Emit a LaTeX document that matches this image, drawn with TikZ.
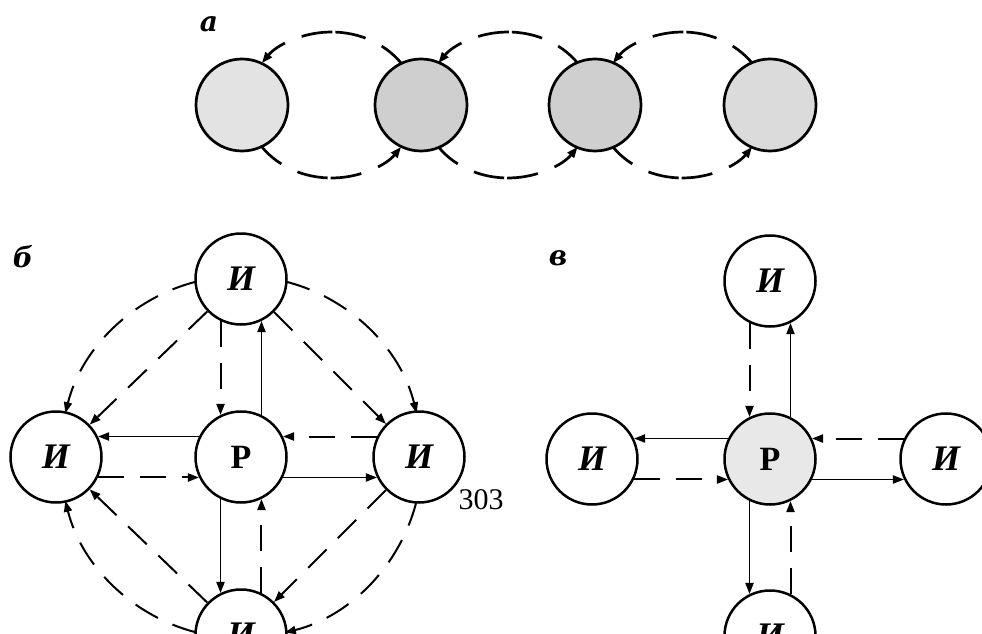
\documentclass[tikz,border=0pt]{standalone}
\usepackage{fontspec}
\setmainfont{Liberation Serif}
\newfontfamily\labfont{DejaVu Serif}
\usetikzlibrary{arrows.meta,backgrounds}
\pgfdeclarelayer{paper}
\pgfsetlayers{paper,background,main}
\begin{document}
\begin{tikzpicture}[x=1pt,y=-1pt,
  nd/.style={circle,draw=black,line width=2.5pt,minimum size=91pt,inner sep=0pt,fill=white,
    font=\bfseries\itshape\fontsize{36}{36}\selectfont},
  ndr/.style={nd,font=\bfseries\fontsize{34}{34}\selectfont},
  anode/.style={circle,draw=black,line width=2.7pt,minimum size=92pt,inner sep=0pt},
  sol/.style={line width=1.9pt},
  dsh/.style={line width=2pt,dash pattern=on 26pt off 16pt},
  aloop/.style={line width=2.7pt,dash pattern=on 26pt off 18pt on 31pt off 3pt on 31pt off 18pt on 40pt},
  arr/.style={-{Triangle[length=11pt,width=8pt]}},
  lab/.style={font=\labfont\bfseries\itshape\fontsize{28}{28}\selectfont},
]
\useasboundingbox (0,0) rectangle (982,634);
\begin{pgfonlayer}{paper}
\fill[white] (0,0) rectangle (982,634);
\end{pgfonlayer}

% ---------- part a ----------
\node[lab] (la) at (209,24) {а};
\node[anode,fill=gray!22] (a1) at (242,105) {};
\node[anode,fill=gray!38] (a2) at (421,105) {};
\node[anode,fill=gray!38] (a3) at (595,105) {};
\node[anode,fill=gray!28] (a4) at (770,105) {};
\coordinate (l1) at (331.5,105);
\coordinate (l2) at (508,105);
\coordinate (l3) at (682.5,105);
\begin{scope}[on background layer]
\foreach \c in {l1,l2,l3}{
  \draw[aloop,arr] (\c) ++(-35:85 and 73) arc[start angle=-35,end angle=-145,x radius=85,y radius=73];
  \draw[aloop,arr] (\c) ++(145:85 and 73) arc[start angle=145,end angle=35,x radius=85,y radius=73];
}
\end{scope}

% ---------- part b ----------
\node[lab] (lb) at (23,257) {б};
\node[nd] (bT) at (241,279) {И};
\node[nd] (bL) at (56,457) {И};
\node[ndr] (bP) at (241,457) {Р};
\node[nd] (bR) at (419,457) {И};
\node[nd] (bB) at (241,635) {И};
\begin{scope}[on background layer]
\draw[sol,arr] (bP.154) -- (bL.26);
\draw[dsh,arr] (bL.-26) -- (bP.206);
\draw[dsh,arr] (bR.154) -- (bP.26);
\draw[sol,arr] (bP.-26) -- (bR.206);
\draw[dsh,arr] (bT.244) -- (bP.116);
\draw[sol,arr] (bP.64) -- (bT.296);
\draw[sol,arr] (bP.244) -- (bB.116);
\draw[dsh,arr] (bB.64) -- (bP.296);
\draw[dsh,arr] (bT) -- (bL);
\draw[dsh,arr] (bT) -- (bR);
\draw[dsh,arr] (bR) -- (bB);
\draw[dsh,arr] (bB) -- (bL);
\draw[dsh,arr] (bP) ++(-104:181) arc[start angle=-104,end angle=-166,radius=181];
\draw[dsh,arr] (bP) ++(-76:181) arc[start angle=-76,end angle=-14,radius=181];
\draw[dsh,arr] (bP) ++(104:181) arc[start angle=104,end angle=166,radius=181];
\draw[dsh,arr] (bP) ++(14:181) arc[start angle=14,end angle=76,radius=181];
\end{scope}
\node[font=\fontsize{30}{30}\selectfont] (pg) at (481,500) {303};

% ---------- part c ----------
\node[lab] (lc) at (558,258) {в};
\node[nd] (cT) at (770,281) {И};
\node[nd] (cL) at (592,459) {И};
\node[ndr,fill=gray!18] (cP) at (770,459) {Р};
\node[nd] (cR) at (946,459) {И};
\node[nd] (cB) at (770,636) {И};
\begin{scope}[on background layer]
\draw[sol,arr] (cP.154) -- (cL.26);
\draw[dsh,arr] (cL.-26) -- (cP.206);
\draw[dsh,arr] (cR.154) -- (cP.26);
\draw[sol,arr] (cP.-26) -- (cR.206);
\draw[dsh,arr] (cT.244) -- (cP.116);
\draw[sol,arr] (cP.64) -- (cT.296);
\draw[sol,arr] (cP.244) -- (cB.116);
\draw[dsh,arr] (cB.64) -- (cP.296);
\end{scope}
\end{tikzpicture}
\end{document}
